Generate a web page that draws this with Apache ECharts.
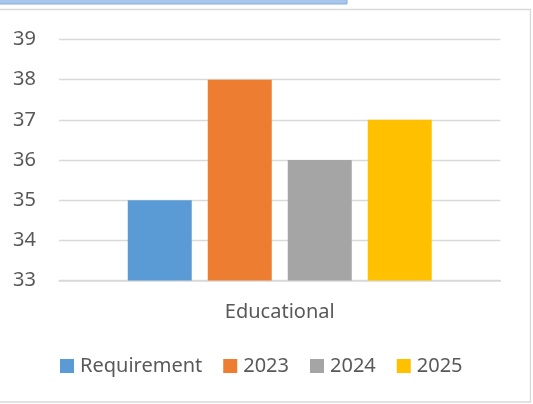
<!DOCTYPE html>
<html>
<head>
    <meta charset="utf-8">
    <title>Educational</title>
    <script src="https://cdn.jsdelivr.net/npm/echarts@6/dist/echarts.min.js"></script>
    <style>
        html, body { margin: 0; padding: 0; background: #fff; }
    </style>
</head>
<body>
<div id="chart" style="width: 533px;height:404px;"></div>

<script>
    // data
    var categories = ['Educational'];
    var seriesNames = ['Requirement', '2023', '2024', '2025'];
    var seriesValues = [[35], [38], [36], [37]];
    var colors = ['#5B9BD5', '#ED7D31', '#A5A5A5', '#FFC000'];
    var yTicks = [33, 34, 35, 36, 37, 38, 39];

    var textColor = '#595959';
    var fontFamily = '"Noto Sans", "Liberation Sans", sans-serif';

    var series = seriesNames.map(function (name, i) {
        return {
            name: name,
            type: 'bar',
            data: seriesValues[i],
            barWidth: 64,
            barGap: '25%',
            itemStyle: { color: colors[i] }
        };
    });

    var option = {
        backgroundColor: '#fff',
        animation: false,
        color: colors,
        graphic: [
            // blue strip of the text box above the chart
            {
                type: 'rect',
                shape: { x: -2, y: -2, width: 349, height: 6 },
                style: { fill: '#a8c6ea', stroke: '#86aee0', lineWidth: 1 }
            },
            // chart area border
            {
                type: 'rect',
                shape: { x: -5, y: 9.5, width: 535.5, height: 392.5 },
                style: { fill: null, stroke: '#d9d9d9', lineWidth: 1.3 }
            }
        ],
        grid: {
            left: 59,
            right: 32.5,
            top: 39.5,
            bottom: 123.5,
            containLabel: false
        },
        legend: {
            data: seriesNames,
            top: 351,
            left: 55,
            icon: 'rect',
            itemWidth: 14,
            itemHeight: 14,
            itemGap: 21,
            textStyle: { color: textColor, fontSize: 20, fontFamily: fontFamily, padding: [0, 0, 0, 1] }
        },
        xAxis: {
            type: 'category',
            data: categories,
            axisLine: { lineStyle: { color: '#d9d9d9', width: 1.5 } },
            axisTick: { show: false },
            axisLabel: { color: textColor, fontSize: 20, fontFamily: fontFamily, margin: 22 }
        },
        yAxis: {
            type: 'value',
            min: yTicks[0],
            max: yTicks[yTicks.length - 1],
            interval: 1,
            axisLine: { show: false },
            axisTick: { show: false },
            axisLabel: { color: textColor, fontSize: 20, fontFamily: fontFamily, margin: 23 },
            splitLine: { lineStyle: { color: '#d9d9d9', width: 1.3 } }
        },
        series: series
    };

    echarts.init(document.getElementById('chart')).setOption(option);
</script>
</body>
</html>
